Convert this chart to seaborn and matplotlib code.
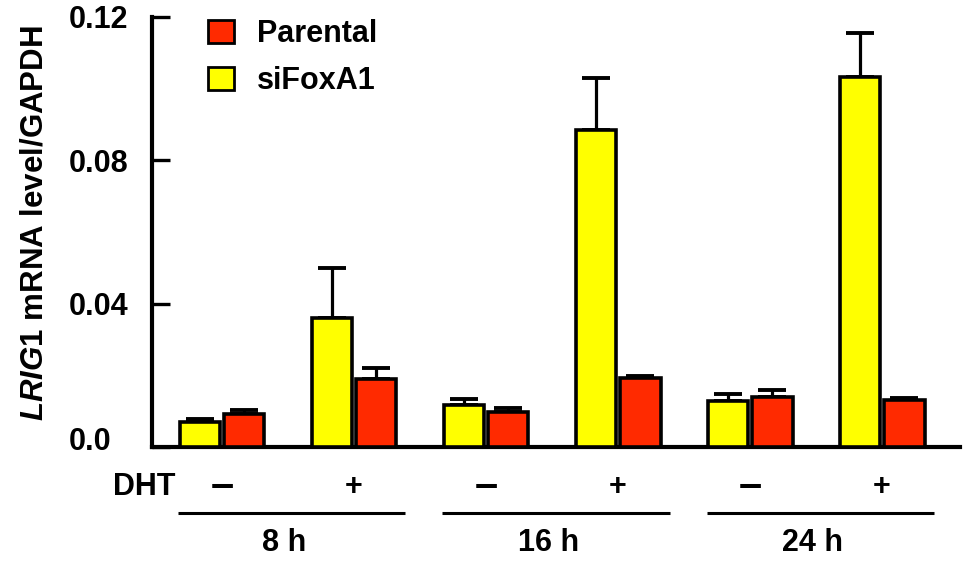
import numpy as np
import pandas as pd
import matplotlib
matplotlib.use("Agg")
import matplotlib.pyplot as plt
import matplotlib.transforms as mtransforms
from matplotlib.patches import Patch
import seaborn as sns

# ---- data -------------------------------------------------------------
conditions = ["8h_noDHT", "8h_DHT", "16h_noDHT", "16h_DHT", "24h_noDHT", "24h_DHT"]
dht_labels = ["\u2013", "+", "\u2013", "+", "\u2013", "+"]
time_labels = ["8 h", "16 h", "24 h"]

sifoxa1_mean = [0.0070, 0.0360, 0.0117, 0.0884, 0.0128, 0.1032]
sifoxa1_err = [0.0009, 0.0140, 0.0018, 0.0146, 0.0021, 0.0123]
parental_mean = [0.0092, 0.0190, 0.0098, 0.0193, 0.0140, 0.0131]
parental_err = [0.0010, 0.0031, 0.0010, 0.0005, 0.0018, 0.0007]

series_names = ["siFoxA1", "Parental"]
colors = {"siFoxA1": "#ffff00", "Parental": "#ff2a00"}

df = pd.DataFrame({
    "condition": conditions * 2,
    "group": ["siFoxA1"] * 6 + ["Parental"] * 6,
    "value": sifoxa1_mean + parental_mean,
})
errors = {"siFoxA1": sifoxa1_err, "Parental": parental_err}

# ---- style ------------------------------------------------------------
sns.set_theme(style="ticks")
plt.rcParams["font.family"] = ["Liberation Sans", "DejaVu Sans"]
plt.rcParams["font.weight"] = "bold"
plt.rcParams["text.color"] = "black"
plt.rcParams["axes.labelcolor"] = "black"
plt.rcParams["xtick.color"] = "black"
plt.rcParams["ytick.color"] = "black"
plt.rcParams["mathtext.fontset"] = "custom"
plt.rcParams["mathtext.it"] = "Liberation Sans:italic:bold"
plt.rcParams["mathtext.rm"] = "Liberation Sans:bold"
plt.rcParams["mathtext.bf"] = "Liberation Sans:bold"

FS = 22

fig = plt.figure(figsize=(9.69, 5.62), dpi=100)
ax = fig.add_axes([152 / 969, 1 - 447 / 562, (960 - 152) / 969, (447 - 17) / 562])

sns.barplot(
    data=df, x="condition", y="value", hue="group",
    order=conditions, hue_order=series_names, palette=colors,
    saturation=1, width=0.67, gap=0.08, edgecolor="black", linewidth=2.6,
    errorbar=None, legend=False, ax=ax, zorder=3,
)

# one-sided (upper) error bars on top of each bar
for name, container in zip(series_names, ax.containers):
    xs = [p.get_x() + p.get_width() / 2 for p in container.patches]
    hs = [p.get_height() for p in container.patches]
    err = errors[name]
    ax.errorbar(xs, hs, yerr=[np.zeros(len(err)), err], fmt="none",
                ecolor="black", elinewidth=2.3, capsize=10, capthick=2.8,
                zorder=2)

# ---- axes -------------------------------------------------------------
ax.set_ylim(0, 0.12)
ax.set_xlim(-0.53, 5.59)
ax.set_yticks([0.0, 0.04, 0.08, 0.12])
ax.set_yticklabels(["0.0", "0.04", "0.08", "0.12"])
ax.set_xticks(range(len(conditions)))
ax.set_xticklabels(dht_labels)
ax.set_xlabel("")
ax.set_ylabel(r"$\mathit{LRIG1}$ mRNA level/GAPDH", fontsize=22.5, fontweight="bold")
ax.yaxis.set_label_coords((50 - 152) / 808, (447 - 223) / 430)

sns.despine(ax=ax)
for side in ("left", "bottom"):
    ax.spines[side].set_linewidth(3)
    ax.spines[side].set_color("black")

ax.tick_params(axis="y", direction="in", length=13, width=2.4, color="black",
               labelsize=FS, pad=60)
ax.tick_params(axis="x", length=0, labelsize=FS, pad=18)
for lbl in ax.get_yticklabels():
    lbl.set_horizontalalignment("left")
    lbl.set_fontweight("bold")
ax.get_yticklabels()[0].set_transform(
    ax.get_yticklabels()[0].get_transform()
    + mtransforms.ScaledTranslation(0, 8 / 100, fig.dpi_scale_trans))
for lbl in ax.get_xticklabels():
    lbl.set_fontweight("bold")
    if lbl.get_text() == "\u2013":
        lbl.set_fontsize(30)
        lbl.set_transform(lbl.get_transform()
                          + mtransforms.ScaledTranslation(0, 6 / 100, fig.dpi_scale_trans))

# DHT row label and time-point brackets under the axis
trans = mtransforms.blended_transform_factory(ax.transData, ax.transAxes)
ax.text(-0.35, (447 - 487) / 430, "DHT", transform=trans, ha="right",
        va="center", fontsize=FS, fontweight="bold")
for i, tl in enumerate(time_labels):
    start = 2 * i
    ax.plot([start - 0.33, start + 1.39], [(447 - 513) / 430] * 2,
            transform=trans, color="black", lw=2.2, clip_on=False,
            solid_capstyle="butt")
    ax.text(start + 0.47, (447 - 543) / 430, tl, transform=trans,
            ha="center", va="center", fontsize=FS, fontweight="bold")

# legend
handles = [Patch(facecolor=colors["Parental"], edgecolor="black", linewidth=2, label="Parental"),
           Patch(facecolor=colors["siFoxA1"], edgecolor="black", linewidth=2, label="siFoxA1")]
fig.legend(handles=handles, loc="upper left",
           bbox_to_anchor=(208 / 969, 1 - 19 / 562), frameon=False,
           prop={"size": FS, "weight": "bold"}, handlelength=0.85,
           handleheight=0.8, handletextpad=0.75, labelspacing=0.56,
           borderpad=0, borderaxespad=0)

fig.savefig("out.png", dpi=100)
